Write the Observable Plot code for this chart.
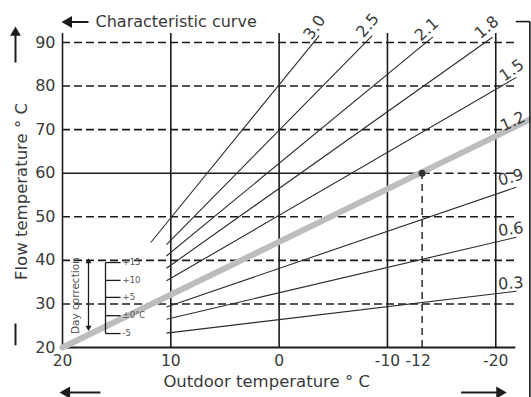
<!DOCTYPE html>
<html><head><meta charset="utf-8">
<script src="https://cdn.jsdelivr.net/npm/d3@7"></script>
<script src="https://cdn.jsdelivr.net/npm/@observablehq/plot@0.6"></script>
<style>html,body{margin:0;padding:0;background:#fff}svg{display:block}</style>
</head><body><div id="chart"></div>
<script>
// Characteristic heating curves (outdoor temp -> flow temp)
const curveNames = ["3.0","2.5","2.1","1.8","1.5","0.9","0.6","0.3"];
const curveX1 = [11.85, 10.4, 10.4, 10.4, 10.4, 10.4, 10.4, 10.4];
const curveY1 = [44.1, 43.6, 41.0, 38.2, 35.3, 29.3, 26.5, 23.3];
const curveX2 = [-3.7, -8.6, -14.2, -19.7, -21.9, -21.9, -21.9, -21.9];
const curveY2 = [91.6, 91.6, 91.3, 91.2, 82.0, 56.8, 45.3, 32.9];
// highlighted curve 1.2
const mainName = ["1.2"];
const mainX = [20, -23.3];
const mainY = [20, 72.5];
// design point (the "-12" mark sits at this position on the drawn axis)
const designLabel = ["-12"];
const designX = [-13.2];
const designY = [60];
// curve labels
const labelNames = ["3.0","2.5","2.1","1.8","1.5","1.2","0.9","0.6","0.3"];
const labelX = [-3.28, -8.18, -13.63, -19.17, -21.48, -21.57, -21.39, -21.39, -21.39];
const labelY = [93.45, 93.9, 93.0, 93.45, 83.6, 71.9, 59.0, 47.1, 34.7];
const labelAngle = [-55, -50, -42, -40, -35, -25, -15, -8, -4];
// axes
const xTicks = [20, 10, 0, -10, -20];
const xGridSolid = [20, 10, 0, -10, -20];
const yTicks = [20, 30, 40, 50, 60, 70, 80, 90];
const yGridDashed = [30, 40, 50, 70, 80, 90];
// day correction inset
const dayLabels = ["+15", "+10", "+5", "±0°C", "-5"];
const dayY = [39.5, 35.4, 31.5, 27.3, 23.2];

const xL = 20, xR = -21.85, yTop = 92.07;
const ink = "#1c1c1c", txt = "#3a3a3a";

const curves = curveNames.map((n, i) => ({n, x1: curveX1[i], y1: curveY1[i], x2: curveX2[i], y2: curveY2[i]}));
const labels = labelNames.map((n, i) => ({n, x: labelX[i], y: labelY[i], a: labelAngle[i]}));
const dayRows = dayLabels.map((n, i) => ({n, y: dayY[i]}));
const design = designLabel.map((n, i) => ({n, x: designX[i], y: designY[i]}));

const chart = Plot.plot({
  width: 531, height: 397,
  marginLeft: 62, marginRight: 0, marginTop: 42, marginBottom: 50,
  x: {domain: [20, -23.3], axis: null},
  y: {domain: [20, 90], axis: null},
  style: {fontFamily: "DejaVu Sans", fontSize: 16, background: "#fff", color: txt},
  marks: [
    // grid
    Plot.ruleY(yGridDashed, {x1: xL, x2: xR, stroke: ink, strokeWidth: 1.6, strokeDasharray: "8,4"}),
    Plot.ruleY(design, {y: "y", x1: xL, x2: "x", stroke: ink, strokeWidth: 1.6}),
    Plot.ruleY(design, {y: "y", x1: "x", x2: xR, stroke: ink, strokeWidth: 1.6, strokeDasharray: "8,4"}),
    Plot.ruleX(xGridSolid, {y1: 20, y2: yTop, stroke: ink, strokeWidth: 1.6}),
    Plot.ruleX(design, {x: "x", y1: 20, y2: "y", stroke: ink, strokeWidth: 1.4, strokeDasharray: "7,5"}),
    Plot.ruleY([20], {x1: xL, x2: xR, stroke: ink, strokeWidth: 2}),
    // highlighted curve
    Plot.line(mainX.map((x, i) => ({x, y: mainY[i]})), {x: "x", y: "y", stroke: "#bdbdbd", strokeWidth: 6}),
    // curves
    Plot.link(curves, {x1: "x1", y1: "y1", x2: "x2", y2: "y2", stroke: "#2a2a2a", strokeWidth: 1.1}),
    Plot.dot(design, {x: "x", y: "y", r: 3.5, fill: "#333", stroke: null}),
    Plot.text(labels, {x: "x", y: "y", text: "n", rotate: "a", fill: txt, fontSize: 16}),
    // tick labels
    Plot.text(yTicks, {x: 20, y: d => d, text: d => String(d), textAnchor: "end", dx: -7, fill: txt, fontSize: 16}),
    Plot.text(xTicks, {x: d => d, y: 16.8, text: d => String(d), fill: txt, fontSize: 15.5}),
    Plot.text(design, {x: "x", y: 16.8, text: "n", dx: -4, fill: txt, fontSize: 15.5}),
    // axis titles
    Plot.text(["Outdoor temperature ° C"], {x: 1.15, y: 12.2, text: d => d, fill: txt, fontSize: 16.5}),
    Plot.text(["Flow temperature ° C"], {x: 23.75, y: 55.8, text: d => d, rotate: -90, fill: txt, fontSize: 16.5}),
    Plot.text(["Characteristic curve"], {x: 16.95, y: 94.8, text: d => d, textAnchor: "start", fill: txt, fontSize: 16}),
    // arrows (shafts)
    Plot.link([0], {x1: 19.5, x2: 17.6, y1: 94.7, y2: 94.7, stroke: ink, strokeWidth: 2}),
    Plot.link([0], {x1: 19.6, x2: 16.5, y1: 9.67, y2: 9.67, stroke: ink, strokeWidth: 2}),
    Plot.link([0], {x1: -20.5, x2: -16.8, y1: 9.67, y2: 9.67, stroke: ink, strokeWidth: 2}),
    Plot.link([0], {x1: 24.34, x2: 24.34, y1: 92, y2: 85.4, stroke: ink, strokeWidth: 2}),
    Plot.link([0], {x1: 24.34, x2: 24.34, y1: 25.5, y2: 20.5, stroke: ink, strokeWidth: 2}),
    // arrow heads
    Plot.dot([0], {x: 20, y: 94.7, symbol: "triangle", rotate: -90, r: 4.5, fill: ink, stroke: null, dx: 6}),
    Plot.dot([0], {x: 20.18, y: 9.67, symbol: "triangle", rotate: -90, r: 4.5, fill: ink, stroke: null, dx: 6}),
    Plot.dot([0], {x: -20.92, y: 9.67, symbol: "triangle", rotate: 90, r: 4.5, fill: ink, stroke: null, dx: -6}),
    Plot.dot([0], {x: 24.34, y: 93.4, symbol: "triangle", rotate: 0, r: 4, fill: ink, stroke: null, dy: 5}),
    // right frame
    Plot.link([0], {x1: -21.85, x2: -23.15, y1: 94.8, y2: 94.8, stroke: ink, strokeWidth: 1.6}),
    Plot.link([0], {x1: -23.15, x2: -23.15, y1: 94.8, y2: 8.6, stroke: ink, strokeWidth: 1.6}),
    // day correction inset
    Plot.link([0], {x1: 17.6, x2: 17.6, y1: 39.4, y2: 24.9, stroke: ink, strokeWidth: 1.3}),
    Plot.dot([0], {x: 17.6, y: 40.4, symbol: "triangle", rotate: 0, r: 2.2, fill: ink, stroke: null, dy: 3}),
    Plot.dot([0], {x: 17.6, y: 23.9, symbol: "triangle", rotate: 180, r: 2.2, fill: ink, stroke: null, dy: -3}),
    Plot.text(["Day correction"], {x: 18.8, y: 31.9, text: d => d, rotate: -90, fill: "#555", fontSize: 10.5}),
    Plot.link([0], {x1: 16.03, x2: 16.03, y1: dayY[0], y2: dayY[dayY.length - 1], stroke: ink, strokeWidth: 1.3}),
    Plot.link(dayRows, {x1: 16.03, x2: 14.64, y1: "y", y2: "y", stroke: ink, strokeWidth: 1.3}),
    Plot.text(dayRows, {x: 14.46, y: "y", text: "n", textAnchor: "start", fill: "#555", fontSize: 8.5})
  ]
});
document.getElementById("chart").appendChild(chart);
</script>
</body></html>
